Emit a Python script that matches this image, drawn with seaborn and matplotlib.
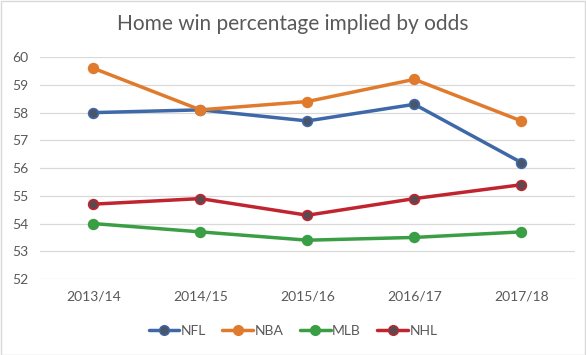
import pandas as pd
import matplotlib.pyplot as plt
import seaborn as sns
from matplotlib.patches import Rectangle

# --- Data ---
seasons = ["2013/14", "2014/15", "2015/16", "2016/17", "2017/18"]
nfl = [58.0, 58.1, 57.7, 58.3, 56.2]
nba = [59.6, 58.1, 58.4, 59.2, 57.7]
mlb = [54.0, 53.7, 53.4, 53.5, 53.7]
nhl = [54.7, 54.9, 54.3, 54.9, 55.4]
leagues = ["NFL", "NBA", "MLB", "NHL"]

colors = {"NFL": "#3E68A8", "NBA": "#E07B2E", "MLB": "#3A9E45", "NHL": "#C0252F"}
face = {"NFL": "#4A5568", "NBA": "#E07B2E", "MLB": "#3A9E45", "NHL": "#5A4A50"}

rows = []
for name, vals in zip(leagues, [nfl, nba, mlb, nhl]):
    for i, v in enumerate(vals):
        rows.append({"season": seasons[i], "x": i, "league": name, "pct": v})
df = pd.DataFrame(rows)

sns.set_style("white")
plt.rcParams['font.family'] = ['Lato', 'DejaVu Sans']

fig = plt.figure(figsize=(5.86, 3.55), dpi=100)
ax = fig.add_axes([0.068, 0.214, 0.913, 0.625])

sns.lineplot(data=df, x="x", y="pct", hue="league", hue_order=leagues,
             palette=colors, marker="o", markersize=7, linewidth=2.5,
             markeredgewidth=1.2, ax=ax, legend=False)

# darker marker faces for NFL / NHL as in the original
for line, name in zip(ax.lines, leagues):
    line.set_markerfacecolor(face[name])
    line.set_markeredgecolor(colors[name])

ax.set_xlim(-0.5, 4.5)
ax.set_ylim(52, 60)
ax.set_xticks(range(len(seasons)))
ax.set_xticklabels(seasons)
ax.set_yticks(range(52, 61))
ax.tick_params(axis="both", labelsize=10, colors="#595959", length=0, pad=8)
ax.grid(axis="y", color="#D9D9D9", linewidth=0.9)
ax.set_axisbelow(True)
for s in ax.spines.values():
    s.set_visible(False)
ax.set_xlabel("")
ax.set_ylabel("")

fig.suptitle("Home win percentage implied by odds", y=0.96, fontsize=15,
             color="#595959")

handles = [plt.Line2D([], [], color=colors[n], lw=2.5, marker="o", markersize=7,
                      markerfacecolor=face[n], markeredgecolor=colors[n])
           for n in leagues]
fig.legend(handles, leagues, loc="center", bbox_to_anchor=(0.5, 0.068), ncol=4,
           frameon=False, fontsize=10, handlelength=2.2, handletextpad=0.1,
           columnspacing=1.2, labelcolor="#595959")

fig.patches.append(Rectangle((0.001, 0.001), 0.997, 0.996, transform=fig.transFigure,
                             fill=False, edgecolor="#D9D9D9", linewidth=1))

fig.savefig("out.png", dpi=100)
